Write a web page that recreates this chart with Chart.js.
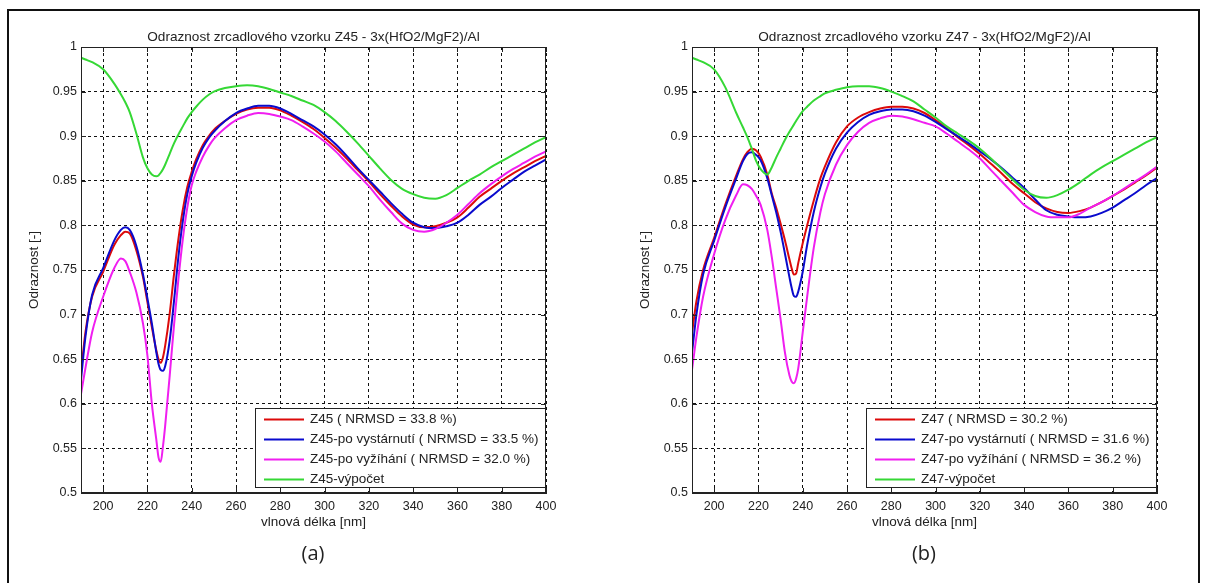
<!DOCTYPE html>
<html>
<head>
<meta charset="utf-8">
<script src="https://cdn.jsdelivr.net/npm/chart.js@4.4.0/dist/chart.umd.min.js"></script>
<style>
  html, body { margin: 0; padding: 0; background: #fff; width: 1210px; height: 583px; overflow: hidden; }
  #frame { position: absolute; left: 7px; top: 9px; width: 1193px; height: 620px; border: 2px solid #111; box-sizing: border-box; }
  .box { position: absolute; top: 14px; height: 526px; }
  #boxA { left: 10px; width: 590px; }
  #boxB { left: 621px; width: 580px; }
  .cap { position: absolute; top: 539px; width: 80px; text-align: center; font: 20px "Open Sans", "Liberation Sans", sans-serif; color: #222; }
</style>
</head>
<body>
<div id="frame"></div>
<div class="box" id="boxA"><canvas id="chartA"></canvas></div>
<div class="box" id="boxB"><canvas id="chartB"></canvas></div>
<div class="cap" style="left:273px">(a)</div>
<div class="cap" style="left:884px">(b)</div>
<script>
// axis ticks
const xTicks = [200, 220, 240, 260, 280, 300, 320, 340, 360, 380, 400];
const yTicks = [0.5, 0.55, 0.6, 0.65, 0.7, 0.75, 0.8, 0.85, 0.9, 0.95, 1];

// sample Z45 (wavelength in nm, reflectance)
const wl45 = [190, 192, 195, 200, 205, 208, 210, 212, 215, 218,
  220, 222, 224, 225, 226, 227, 228, 230, 232, 234,
  236, 238, 240, 242, 245, 248, 250,
  255, 260, 265, 270, 275, 280, 285, 290, 295, 300,
  305, 310, 315, 320, 325, 330, 335, 340, 345, 350,
  355, 360, 365, 370, 375, 380, 385, 390, 395, 400];
const z45 = [0.635, 0.68, 0.72, 0.748, 0.778, 0.789, 0.793, 0.791, 0.772, 0.742,
  0.714, 0.686, 0.66, 0.65, 0.646, 0.652, 0.665, 0.70, 0.745, 0.785,
  0.818, 0.843, 0.86, 0.874, 0.89, 0.901, 0.907,
  0.917, 0.925, 0.930, 0.932, 0.932, 0.929, 0.923, 0.916, 0.908, 0.898,
  0.887, 0.875, 0.862, 0.849, 0.835, 0.822, 0.81, 0.801, 0.798, 0.799,
  0.803, 0.809, 0.820, 0.832, 0.841, 0.850, 0.858, 0.865, 0.872, 0.878];
const z45aged = [0.627, 0.675, 0.722, 0.752, 0.783, 0.795, 0.798, 0.795, 0.777, 0.745,
  0.718, 0.69, 0.658, 0.645, 0.638, 0.637, 0.642, 0.67, 0.715, 0.765,
  0.805, 0.835, 0.855, 0.87, 0.887, 0.899, 0.905,
  0.917, 0.926, 0.931, 0.934, 0.934, 0.931, 0.925, 0.918, 0.911, 0.902,
  0.891, 0.878, 0.864, 0.851, 0.838, 0.825, 0.813, 0.803, 0.798, 0.797,
  0.799, 0.803, 0.812, 0.823, 0.832, 0.842, 0.851, 0.860, 0.867, 0.874];
const z45annealed = [0.611, 0.64, 0.68, 0.72, 0.752, 0.763, 0.76, 0.748, 0.725, 0.69,
  0.654, 0.60, 0.56, 0.54, 0.535, 0.552, 0.575, 0.63, 0.688, 0.74,
  0.785, 0.82, 0.845, 0.86, 0.877, 0.89, 0.897,
  0.909, 0.918, 0.923, 0.926, 0.925, 0.922, 0.918, 0.911, 0.903, 0.894,
  0.883, 0.87, 0.857, 0.844, 0.829, 0.815, 0.802, 0.795, 0.793, 0.796,
  0.803, 0.812, 0.824, 0.836, 0.846, 0.855, 0.863, 0.870, 0.877, 0.883];
const z45calc = [0.988, 0.986, 0.983, 0.975, 0.959, 0.947, 0.938, 0.927, 0.903, 0.876,
  0.864, 0.857, 0.855, 0.856, 0.859, 0.863, 0.868, 0.88, 0.892, 0.902,
  0.911, 0.92, 0.927, 0.933, 0.941, 0.947, 0.950,
  0.954, 0.956, 0.957, 0.956, 0.953, 0.949, 0.945, 0.940, 0.935, 0.927,
  0.917, 0.905, 0.892, 0.878, 0.864, 0.851, 0.841, 0.835, 0.831, 0.830,
  0.834, 0.842, 0.850, 0.857, 0.865, 0.872, 0.879, 0.886, 0.893, 0.899];

// sample Z47
const wl47 = [190, 192, 195, 200, 205, 210, 213, 215, 217, 219,
  221, 224, 226, 228, 230, 232, 234, 235, 236, 237,
  238, 240, 242, 245, 248, 250, 255,
  260, 265, 270, 275, 280, 285, 290, 295, 300, 305,
  310, 315, 320, 325, 330, 335, 340, 345, 350, 355,
  360, 365, 370, 375, 380, 385, 390, 395, 400];
const z47 = [0.679, 0.715, 0.75, 0.786, 0.823, 0.856, 0.874, 0.882, 0.886, 0.884,
  0.877, 0.857, 0.836, 0.82, 0.802, 0.783, 0.762, 0.752, 0.745, 0.746,
  0.758, 0.78, 0.80, 0.828, 0.853, 0.866, 0.893,
  0.911, 0.921, 0.927, 0.931, 0.933, 0.933, 0.931, 0.926, 0.918, 0.909,
  0.899, 0.89, 0.88, 0.869, 0.858, 0.846, 0.836, 0.826, 0.819, 0.815,
  0.814, 0.816, 0.82, 0.826, 0.833, 0.84, 0.848, 0.856, 0.865];
const z47aged = [0.657, 0.70, 0.745, 0.783, 0.82, 0.853, 0.872, 0.88, 0.882, 0.879,
  0.873, 0.853, 0.834, 0.815, 0.793, 0.768, 0.742, 0.73, 0.721, 0.72,
  0.726, 0.748, 0.778, 0.815, 0.843, 0.858, 0.886,
  0.904, 0.916, 0.924, 0.928, 0.930, 0.930, 0.928, 0.923, 0.916, 0.908,
  0.9, 0.892, 0.883, 0.874, 0.864, 0.853, 0.842, 0.829, 0.817, 0.812,
  0.81, 0.809, 0.81, 0.814, 0.82, 0.828, 0.836, 0.845, 0.853];
const z47annealed = [0.638, 0.675, 0.72, 0.768, 0.806, 0.834, 0.846, 0.845, 0.841, 0.833,
  0.823, 0.795, 0.765, 0.73, 0.695, 0.657, 0.632, 0.625, 0.623, 0.628,
  0.64, 0.68, 0.72, 0.775, 0.815, 0.835, 0.868,
  0.89, 0.905, 0.915, 0.92, 0.923, 0.922, 0.919, 0.915, 0.911, 0.903,
  0.894, 0.885, 0.875, 0.862, 0.849, 0.836, 0.823, 0.815, 0.81, 0.809,
  0.809, 0.813, 0.82, 0.826, 0.833, 0.841, 0.849, 0.857, 0.866];
const z47calc = [0.988, 0.986, 0.983, 0.975, 0.955, 0.926, 0.91, 0.899, 0.886, 0.872,
  0.863, 0.857, 0.865, 0.876, 0.886, 0.896, 0.905, 0.909, 0.913, 0.917,
  0.921, 0.928, 0.933, 0.940, 0.945, 0.948, 0.952,
  0.955, 0.956, 0.956, 0.954, 0.950, 0.945, 0.939, 0.930, 0.921, 0.911,
  0.903, 0.895, 0.886, 0.875, 0.863, 0.851, 0.840, 0.833, 0.831, 0.834,
  0.840, 0.848, 0.857, 0.865, 0.872, 0.879, 0.886, 0.893, 0.899];

const labels45 = ['Z45 ( NRMSD = 33.8 %)', 'Z45-po vystárnutí ( NRMSD = 33.5 %)', 'Z45-po vyžíhání ( NRMSD = 32.0 %)', 'Z45-výpočet'];
const labels47 = ['Z47 ( NRMSD = 30.2 %)', 'Z47-po vystárnutí ( NRMSD = 31.6 %)', 'Z47-po vyžíhání ( NRMSD = 36.2 %)', 'Z47-výpočet'];
const colors = ['#dc0a0a', '#0a0acd', '#f01ef0', '#35d835'];

const FONT = "'Liberation Sans', Arial, sans-serif";
const TEXT = '#222';

// MATLAB style title, box, inward ticks and legend in lower right corner
const matlabBox = {
  id: 'matlabBox',
  afterDatasetsDraw(chart) {
    const { ctx, chartArea: a, scales } = chart;
    ctx.save();
    ctx.setLineDash([]);

    // title centred over the plot
    ctx.font = '13.6px ' + FONT;
    ctx.fillStyle = TEXT;
    ctx.textAlign = 'center';
    ctx.textBaseline = 'middle';
    ctx.fillText(chart.options.plotTitle, (a.left + a.right) / 2, a.top - 10);
    ctx.textAlign = 'left';

    ctx.strokeStyle = '#222';
    ctx.lineWidth = 1;
    ctx.strokeRect(a.left + 0.5, a.top + 0.5, a.width - 1, a.height - 1);
    ctx.beginPath();
    xTicks.forEach(v => {
      const px = Math.round(scales.x.getPixelForValue(v)) + 0.5;
      ctx.moveTo(px, a.bottom); ctx.lineTo(px, a.bottom - 5);
      ctx.moveTo(px, a.top); ctx.lineTo(px, a.top + 5);
    });
    yTicks.forEach(v => {
      const py = Math.round(scales.y.getPixelForValue(v)) + 0.5;
      ctx.moveTo(a.left, py); ctx.lineTo(a.left + 5, py);
      ctx.moveTo(a.right, py); ctx.lineTo(a.right - 5, py);
    });
    ctx.stroke();

    // legend
    ctx.font = '13.5px ' + FONT;
    const items = chart.data.datasets;
    const textW = Math.max(...items.map(d => ctx.measureText(d.label).width));
    const w = Math.round(9 + 40 + 6 + textW + 8);
    const h = 79;
    const bx = Math.round(a.right - w);
    const by = Math.round(a.bottom - 6 - h);
    ctx.fillStyle = '#fff';
    ctx.fillRect(bx, by, w, h);
    ctx.strokeStyle = '#222';
    ctx.lineWidth = 1;
    ctx.strokeRect(bx + 0.5, by + 0.5, w - 1, h);
    items.forEach((d, i) => {
      const cy = by + 11.5 + i * 20;
      ctx.strokeStyle = d.borderColor;
      ctx.lineWidth = 2;
      ctx.beginPath();
      ctx.moveTo(bx + 9, cy); ctx.lineTo(bx + 49, cy);
      ctx.stroke();
      ctx.fillStyle = TEXT;
      ctx.fillText(d.label, bx + 55, cy);
    });
    ctx.restore();
  }
};

function makeChart(id, wl, series, labels, title, padRight) {
  const datasets = series.map((vals, i) => ({
    label: labels[i],
    data: wl.map((x, j) => ({ x: x, y: vals[j] })),
    borderColor: colors[i],
    borderWidth: 2,
    pointRadius: 0,
    fill: false,
    cubicInterpolationMode: 'monotone',
    order: series.length - i
  }));

  return new Chart(document.getElementById(id), {
    type: 'line',
    data: { datasets: datasets },
    options: {
      plotTitle: title,
      responsive: true,
      maintainAspectRatio: false,
      animation: false,
      events: [],
      layout: { padding: { left: 0, right: padRight, top: 33, bottom: 0 } },
      plugins: {
        legend: { display: false },
        tooltip: { enabled: false },
        title: { display: false }
      },
      scales: {
        x: {
          type: 'linear',
          min: 190,
          max: 400,
          afterBuildTicks: s => { s.ticks = xTicks.map(v => ({ value: v })); },
          afterFit: s => { s.height = 47; },
          grid: { color: '#111', lineWidth: 1, drawTicks: false },
          border: { display: true, color: '#222', width: 1, dash: [3, 3] },
          ticks: {
            autoSkip: false,
            maxRotation: 0,
            padding: 6,
            color: TEXT,
            font: { family: FONT, size: 12.5 },
            callback: v => String(v)
          },
          title: {
            display: true,
            text: 'vlnová délka [nm]',
            color: TEXT,
            font: { family: FONT, size: 13.5 },
            padding: { top: 0, bottom: 10 }
          }
        },
        y: {
          min: 0.5,
          max: 1,
          afterBuildTicks: s => { s.ticks = yTicks.map(v => ({ value: v })); },
          afterFit: s => { s.width = 71; },
          grid: { color: '#111', lineWidth: 1, drawTicks: false },
          border: { display: true, color: '#222', width: 1, dash: [3, 3] },
          ticks: {
            padding: 4,
            color: TEXT,
            font: { family: FONT, size: 12.5 },
            callback: v => String(v)
          },
          title: {
            display: true,
            text: 'Odraznost [-]',
            color: TEXT,
            font: { family: FONT, size: 13.5 },
            padding: { top: 16, bottom: 0 }
          }
        }
      }
    },
    plugins: [matlabBox]
  });
}

makeChart('chartA', wl45, [z45, z45aged, z45annealed, z45calc], labels45,
  'Odraznost zrcadlového vzorku Z45 - 3x(HfO2/MgF2)/Al', 54);
makeChart('chartB', wl47, [z47, z47aged, z47annealed, z47calc], labels47,
  'Odraznost zrcadlového vzorku Z47 - 3x(HfO2/MgF2)/Al', 44);
</script>
</body>
</html>
